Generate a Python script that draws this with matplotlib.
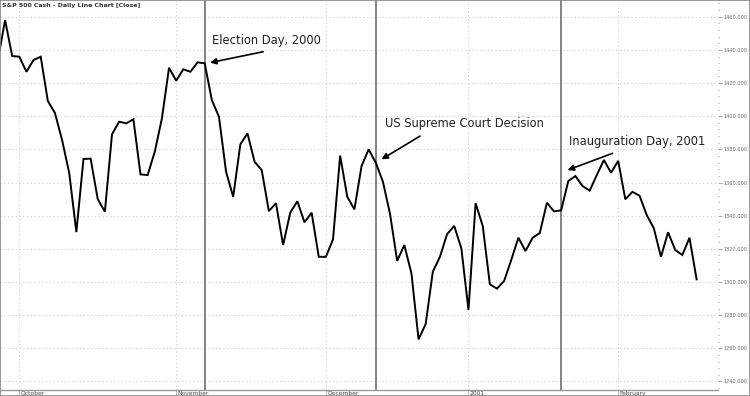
import matplotlib.pyplot as plt
from matplotlib.patches import Rectangle
from matplotlib.ticker import MultipleLocator, FormatStrFormatter
import matplotlib.transforms as mtransforms

# daily closes, S&P 500 cash, late Sep 2000 .. mid Feb 2001
closes = [1433.9, 1458.0, 1436.3, 1435.9, 1426.8, 1433.9, 1435.9, 1409.2, 1401.9, 1385.6,
          1365.7, 1330.1, 1374.2, 1374.4, 1350.0, 1342.4, 1389.1, 1396.7, 1395.7, 1398.1,
          1364.9, 1364.5, 1378.6, 1398.7, 1429.2, 1421.4, 1428.3, 1426.8, 1432.5, 1431.9,
          1409.8, 1399.7, 1366.5, 1351.4, 1383.0, 1389.7, 1372.5, 1367.5, 1342.8, 1347.5,
          1322.3, 1341.8, 1348.7, 1336.0, 1341.8, 1315.2, 1315.2, 1325.7, 1376.2, 1351.4,
          1343.8, 1369.9, 1380.0, 1371.9, 1360.5, 1341.0, 1312.7, 1322.3, 1305.2, 1265.4,
          1274.7, 1306.2, 1315.2, 1328.9, 1333.8, 1320.3, 1283.1, 1347.5, 1333.8, 1298.6,
          1296.0, 1300.6, 1313.3, 1326.7, 1318.7, 1326.7, 1329.5, 1347.8, 1342.6, 1343.2,
          1360.9, 1363.9, 1357.9, 1355.1, 1364.5, 1373.6, 1365.9, 1373.1, 1349.9, 1354.4,
          1352.0, 1340.4, 1332.4, 1315.2, 1330.0, 1319.3, 1316.3, 1326.7, 1301.6]

# first trading day of each month (bar index) and its label
month_idx = [3, 25, 46, 66, 87]
month_labels = ['October', 'November', 'December', '2001', 'February']

# event days (bar index)
event_idx = [29, 53, 79]
event_labels = ['Election Day, 2000', 'US Supreme Court Decision', 'Inauguration Day, 2001']
# (text x, text y, arrow tail x, tail y, head x, head y) in bar index / price
event_pos = [(30.0, 1445.9, 37.2, 1438.9, 29.75, 1432.3),
             (54.3, 1395.9, 59.2, 1388.0, 53.8, 1374.0),
             (80.1, 1385.0, 86.2, 1377.6, 79.9, 1367.5)]

y_ticks = list(range(1240, 1461, 20))


fig = plt.figure(figsize=(7.5, 3.96), dpi=100)
ax = fig.add_axes([0, 6 / 396, 718 / 750, 390 / 396])

ax.plot(range(len(closes)), closes, color='black', lw=1.4, solid_joinstyle='miter', zorder=3)

ax.set_xlim(0.29, 101.0)
ax.set_ylim(1234.85, 1470.1)

# grid
for m in month_idx:
    ax.axvline(m, color='#d4d4d4', ls=(0, (1.2, 2.2)), lw=0.8, zorder=1)
for v in y_ticks:
    ax.axhline(v, color='#d4d4d4', ls=(0, (1.2, 2.2)), lw=0.8, zorder=1)

# event lines
for e in event_idx:
    ax.axvline(e, color='#6e6e6e', lw=1.2, zorder=2)

# annotations
for lab, (tx, ty, ax0, ay0, hx, hy) in zip(event_labels, event_pos):
    ax.text(tx, ty, lab, fontsize=8.3, color='#222222', va='center', ha='left')
    ax.annotate('', xy=(hx, hy), xytext=(ax0, ay0),
                arrowprops=dict(arrowstyle='-|>', color='black', lw=1.2,
                                mutation_scale=9, shrinkA=0, shrinkB=0))

# y axis on right
ax.yaxis.tick_right()
ax.set_yticks(y_ticks)
ax.yaxis.set_major_formatter(FormatStrFormatter('%.3f'))
ax.yaxis.set_minor_locator(MultipleLocator(4))
ax.tick_params(axis='y', which='major', length=3, width=0.6, color='#999999',
               labelsize=3.6, labelcolor='#666666', pad=1.0)
ax.tick_params(axis='y', which='minor', length=1, width=0.8, color='#999999')

# x axis: month labels in the strip below
ax.set_xticks(month_idx)
ax.set_xticklabels([])
ax.tick_params(axis='x', length=6, width=0.6, color='#aaaaaa', direction='out')
trans = mtransforms.blended_transform_factory(ax.transData, ax.transAxes)
for m, lab in zip(month_idx, month_labels):
    ax.text(m + 0.15, -0.002, lab, transform=trans, fontsize=4.3, color='#444444',
            ha='left', va='top')

for side in ['top', 'right', 'left']:
    ax.spines[side].set_visible(False)
ax.spines['bottom'].set_color('#999999')
ax.spines['bottom'].set_linewidth(1.0)

ax.text(0.003, 0.987, 'S&P 500 Cash - Daily Line Chart [Close]', transform=ax.transAxes,
        fontsize=4.5, fontweight='bold', color='#333333', ha='left', va='center')

fig.patches.append(Rectangle((0, 0), 1, 1, transform=fig.transFigure, fill=False,
                             edgecolor='#888888', lw=1.2))

fig.savefig('out.png', dpi=100)
